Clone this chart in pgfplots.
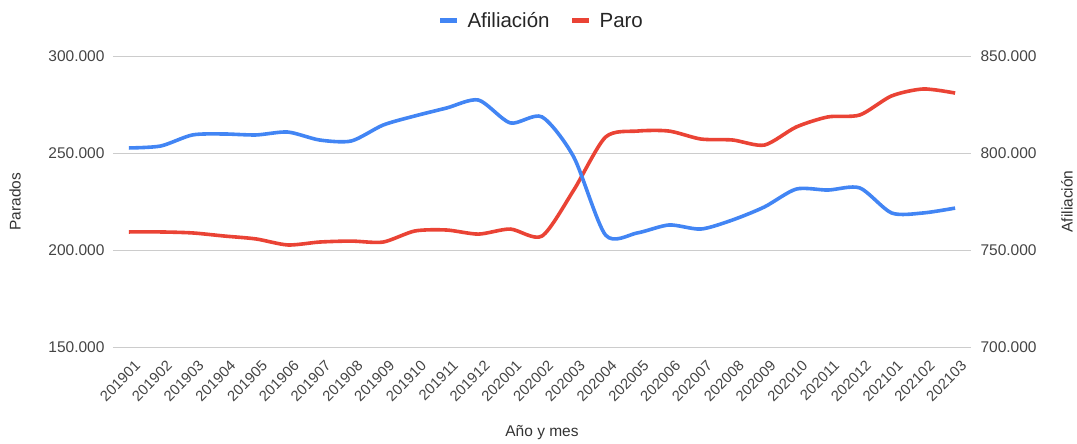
\documentclass[border=0pt]{standalone}
\usepackage{fontspec}
\setmainfont{Liberation Sans}
\usepackage{pgfplots}
\pgfplotsset{compat=1.18}
\definecolor{GBlue}{HTML}{4285F4}
\definecolor{GRed}{HTML}{EA4335}
\definecolor{GGrid}{HTML}{CCCCCC}
\definecolor{GText}{HTML}{444444}
\tikzset{lab/.style={font=\fontsize{15.5pt}{18pt}\selectfont, text=black!80}}

\begin{document}
\begin{tikzpicture}
\pgfplotsset{
  base/.style={
    scale only axis, width=858pt, height=291pt,
    xmin=-0.5, xmax=26.5,
    xtick={0,...,26},
    xticklabels={201901,201902,201903,201904,201905,201906,201907,201908,201909,201910,201911,201912,202001,202002,202003,202004,202005,202006,202007,202008,202009,202010,202011,202012,202101,202102,202103},
    tick style={draw=none},
    scaled y ticks=false,
    yticklabel style={/pgf/number format/fixed, /pgf/number format/1000 sep={.}, /pgf/number format/assume math mode=true},
    ticklabel style={font=\fontsize{15.5pt}{18pt}\selectfont, text=GText},
  },
}
% left axis: Paro
\begin{axis}[base, name=ax,
    axis line style={draw=none},
    ymin=150000, ymax=300000, ytick={150000,200000,250000,300000},
    ymajorgrids, grid style={GGrid, line width=0.9pt},
    xticklabel style={font=\fontsize{14.8pt}{17pt}\selectfont, rotate=45, anchor=north east, xshift=-2pt, yshift=-9pt},
    yticklabel style={xshift=-5pt},
    xlabel={Año y mes},
    every axis x label/.style={lab, at={(rel axis cs:0.5,0)}, yshift=-86pt, anchor=center},
    ylabel={Parados},
    every axis y label/.style={lab, at={(rel axis cs:0,0.5)}, xshift=-98pt, rotate=90, anchor=center},
  ]
  \addplot[GRed, line width=3.6pt, smooth, tension=0.45] coordinates {
    (0,209300) (1,209300) (2,208800) (3,207200) (4,205700) (5,202600)
    (6,204100) (7,204600) (8,204100) (9,209800) (10,210300) (11,208200)
    (12,210800) (13,207200) (14,230900) (15,258200) (16,261300) (17,261300)
    (18,257200) (19,256700) (20,254100) (21,263400) (22,268600) (23,269600)
    (24,279400) (25,283000) (26,280900)
  };
\end{axis}
% right axis: Afiliacion
\begin{axis}[base,
    axis line style={draw=none},
    axis x line=none,
    axis y line*=right,
    ymin=700000, ymax=850000, ytick={700000,750000,800000,850000},
    yticklabel style={xshift=6pt},
    ylabel={Afiliación},
    every axis y label/.style={lab, at={(rel axis cs:1,0.5)}, xshift=96pt, rotate=90, anchor=center},
    legend columns=2,
    legend style={draw=none, fill=none, at={(rel axis cs:0.5026,1)}, yshift=35pt, anchor=center,
      font=\fontsize{20.5pt}{24pt}\selectfont, text=black!85,
      /tikz/every even column/.append style={column sep=12pt},
      nodes={inner xsep=8pt}},
    legend image code/.code={\draw[#1, line width=5pt] (0pt,0pt) -- (17pt,0pt);},
  ]
  \addplot[GBlue, line width=3.6pt, smooth, tension=0.45] coordinates {
    (0,802600) (1,803600) (2,809300) (3,809800) (4,809300) (5,810800)
    (6,806700) (7,806200) (8,814400) (9,819100) (10,823200) (11,827300)
    (12,815500) (13,818600) (14,797900) (15,757700) (16,758800) (17,762900)
    (18,760800) (19,765500) (20,772200) (21,781400) (22,780900) (23,782000)
    (24,769100) (25,769100) (26,771600)
  };
  \addlegendentry{Afiliación}
  \addlegendimage{GRed}
  \addlegendentry{Paro}
\end{axis}
\useasboundingbox (ax.south west) ++(-113pt,-92pt) rectangle ++(1077pt,439pt);
\end{tikzpicture}
\end{document}
